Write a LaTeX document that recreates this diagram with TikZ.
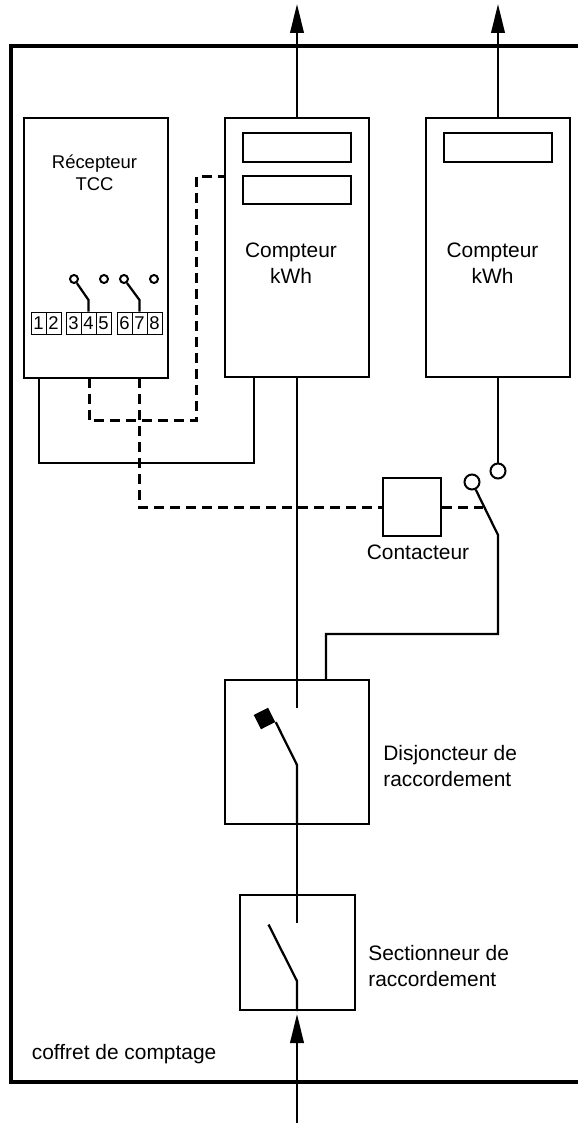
\documentclass[tikz,border=0pt]{standalone}
\usepackage{fontspec}
\setmainfont{Liberation Sans}
\usetikzlibrary{arrows.meta}
\tikzset{
  boite/.style={draw, line width=0.04cm, inner sep=0pt, minimum width=#1},
  borne/.style={draw, line width=0.02cm, inner sep=0pt, minimum width=0.3cm, minimum height=0.44cm, font=\fontsize{10.5pt}{12pt}\selectfont},
  plot/.style={draw, circle, line width=0.04cm, inner sep=0pt, minimum size=#1, fill=white},
  fil/.style={line width=0.045cm},
  pointille/.style={line width=0.06cm, dash pattern=on 0.2cm off 0.12cm},
  fleche/.style={fil, -{Triangle[length=0.58cm, width=0.27cm]}},
  grand/.style={font=\fontsize{11.9pt}{14.5pt}\selectfont, align=center, inner sep=0pt},
  petit/.style={font=\fontsize{10.5pt}{12.6pt}\selectfont, align=center, inner sep=0pt}
}
\begin{document}
\begin{tikzpicture}
        \useasboundingbox (0,0) rectangle (11.56,-22.46);

        % coffret, open on the right side
        \draw[line width=0.08cm] (11.56,-0.92) -- (0.214,-0.92) -- (0.214,-21.64) -- (11.56,-21.64);
        \node[grand, anchor=west] (coffret) at (0.63,-21.08) {coffret de comptage};

        % recepteur and the 2 compteurs
        \node[boite=2.88cm, minimum height=5.2cm] (recepteur) at (1.92,-4.96) {};
        \node[boite=2.88cm, minimum height=5.18cm] (compteurA) at (5.94,-4.95) {};
        \node[boite=2.88cm, minimum height=5.18cm] (compteurB) at (9.96,-4.95) {};

        %write recepteur, compteurs
        \node[petit] (txtrecepteur) at (1.89,-3.46) {Récepteur\\TCC};
        \node[grand] (txtcompteurA) at (5.82,-5.26) {Compteur\\kWh};
        \node[grand] (txtcompteurB) at (9.85,-5.26) {Compteur\\kWh};

        % displays of the compteurs
        \node[boite=2.16cm, minimum height=0.58cm] (ecranA1) at (5.94,-2.95) {};
        \node[boite=2.16cm, minimum height=0.56cm] (ecranA2) at (5.94,-3.8) {};
        \node[boite=2.16cm, minimum height=0.58cm] (ecranB1) at (9.96,-2.95) {};

        % 8 terminals
        \foreach \n/\x in {1/0.77,2/1.07,3/1.47,4/1.77,5/2.07,6/2.49,7/2.79,8/3.09}
          \node[borne] (b\n) at (\x,-6.46) {\n};

        % contacts above the terminals
        \foreach \n/\x in {1/1.48,2/2.08,3/2.48,4/3.08}
          \node[plot=0.16cm] (c\n) at (\x,-5.58) {};
        \coordinate (l1) at (1.77,-6.0);
        \coordinate (l2) at (2.79,-6.0);
        \draw[fil] (c1) -- (l1) -- (b4.north);
        \draw[fil] (c3) -- (l2) -- (b7.north);

        % arrows going out at the top
        \coordinate (sortieA) at (5.94,-0.08);
        \coordinate (sortieB) at (9.96,-0.08);
        \draw[fleche] (compteurA.north) -- (sortieA);
        \draw[fleche] (compteurB.north) -- (sortieB);

        % solid link recepteur to compteur
        \coordinate (r1) at (0.78,-7.56);
        \coordinate (r2) at (0.78,-9.26);
        \coordinate (r3) at (5.08,-9.26);
        \coordinate (r4) at (5.08,-7.54);
        \draw[fil] (r1) -- (r2) -- (r3) -- (r4);

        % dashed link to the second display
        \coordinate (t1) at (1.78,-7.56);
        \coordinate (t2) at (1.78,-8.41);
        \coordinate (t3) at (3.93,-8.41);
        \coordinate (t4) at (3.93,-3.53);
        \coordinate (t5) at (4.5,-3.53);
        \draw[pointille] (t1) -- (t2) -- (t3) -- (t4) -- (t5);

        % contacteur
        \node[boite=1.16cm, minimum height=1.16cm] (contacteur) at (8.24,-10.14) {};
        \node[grand] (txtcontacteur) at (8.36,-11.04) {Contacteur};
        \coordinate (u1) at (2.78,-7.56);
        \coordinate (u2) at (2.78,-10.14);
        \coordinate (u3) at (9.66,-10.14);
        \draw[pointille] (u1) -- (u2) -- (contacteur.west);
        \draw[pointille] (contacteur.east) -- (u3);

        % switch of compteur B
        \node[plot=0.3cm] (hautB) at (9.96,-9.42) {};
        \node[plot=0.3cm] (hautC) at (9.44,-9.64) {};
        \coordinate (v2) at (9.96,-10.7);
        \coordinate (v3) at (9.96,-12.68);
        \coordinate (v4) at (6.52,-12.68);
        \coordinate (v5) at (6.52,-13.58);
        \draw[fil] (compteurB.south) -- (hautB);
        \draw[fil] (hautC) -- (v2) -- (v3) -- (v4) -- (v5);

        % disjoncteur
        \node[boite=2.88cm, minimum height=2.88cm] (disjoncteur) at (5.94,-15.03) {};
        \node[grand, anchor=west, align=left] (txtdisjoncteur) at (7.66,-15.32) {Disjoncteur de\\raccordement};
        \coordinate (d1) at (5.94,-14.16);
        \coordinate (d2) at (5.94,-15.3);
        \node[fill=black, inner sep=0pt, minimum size=0.32cm, rotate=27] (carre) at (5.29,-14.37) {};
        \draw[fil] (compteurA.south) -- (d1);
        \draw[fil] (carre.south east) -- (d2) -- (disjoncteur.south);

        % sectionneur
        \node[boite=2.3cm, minimum height=2.3cm] (sectionneur) at (5.94,-19.05) {};
        \node[grand, anchor=west, align=left] (txtsectionneur) at (7.36,-19.32) {Sectionneur de\\raccordement};
        \coordinate (s1) at (5.94,-18.46);
        \coordinate (s2) at (5.94,-19.62);
        \coordinate (s3) at (5.37,-18.49);
        \draw[fil] (disjoncteur.south) -- (s1);
        \draw[fil] (s3) -- (s2) -- (sectionneur.south);

        % arrow coming in at the bottom
        \coordinate (entree) at (5.94,-22.46);
        \coordinate (pointe) at (5.94,-20.28);
        \draw[fleche] (entree) -- (pointe);
\end{tikzpicture}
\end{document}
